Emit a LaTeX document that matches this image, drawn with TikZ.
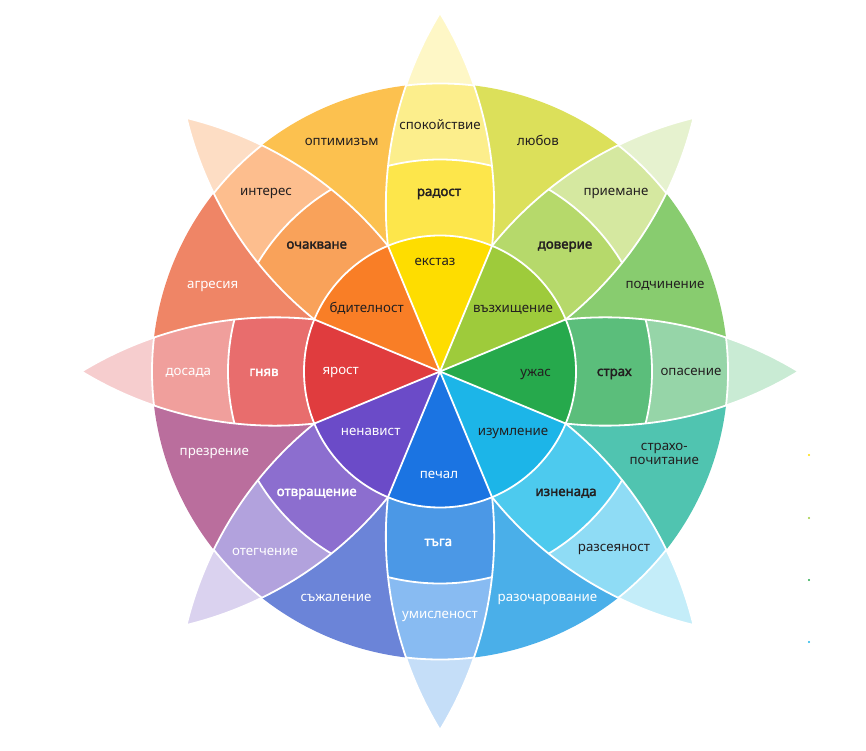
\documentclass[tikz,border=0pt]{standalone}
\usepackage{fontspec}
\setmainfont{Noto Sans}[AutoFakeBold=2.2]
% petal colours: T = tip, O = outer band, M = middle band, I = inner wedge
\definecolor{joyT}{HTML}{FEF7C6}\definecolor{joyO}{HTML}{FCEE8C}\definecolor{joyM}{HTML}{FDE64B}\definecolor{joyI}{HTML}{FEDD00}
\definecolor{truT}{HTML}{E6F2CF}\definecolor{truO}{HTML}{D5E8A0}\definecolor{truM}{HTML}{B6D96B}\definecolor{truI}{HTML}{9ECB3B}
\definecolor{feaT}{HTML}{C9EBD4}\definecolor{feaO}{HTML}{96D5A8}\definecolor{feaM}{HTML}{5BBE7B}\definecolor{feaI}{HTML}{26A94C}
\definecolor{surT}{HTML}{C4EDF9}\definecolor{surO}{HTML}{8FDCF5}\definecolor{surM}{HTML}{4DCAEE}\definecolor{surI}{HTML}{1CB5E8}
\definecolor{sadT}{HTML}{C5DEF8}\definecolor{sadO}{HTML}{88BBF2}\definecolor{sadM}{HTML}{4B98E6}\definecolor{sadI}{HTML}{1B74E2}
\definecolor{disT}{HTML}{DAD2EF}\definecolor{disO}{HTML}{B2A2DD}\definecolor{disM}{HTML}{8C6ECF}\definecolor{disI}{HTML}{6B4BC8}
\definecolor{angT}{HTML}{F6CDCE}\definecolor{angO}{HTML}{F09F9C}\definecolor{angM}{HTML}{E86D6D}\definecolor{angI}{HTML}{E03C3E}
\definecolor{antT}{HTML}{FDDDC4}\definecolor{antO}{HTML}{FDBE8E}\definecolor{antM}{HTML}{F9A25A}\definecolor{antI}{HTML}{F97E26}
% dyads
\definecolor{dOpt}{HTML}{FCC14F}\definecolor{dLove}{HTML}{DCE05A}\definecolor{dSub}{HTML}{88CC6F}\definecolor{dAwe}{HTML}{50C4B0}
\definecolor{dDis}{HTML}{4AAFE9}\definecolor{dRem}{HTML}{6B84D8}\definecolor{dCon}{HTML}{BA6E9D}\definecolor{dAgg}{HTML}{EF8566}
\definecolor{ink}{HTML}{231F20}
\begin{document}
\begin{tikzpicture}[x=1pt,y=1pt,
  wline/.style={draw=white,line width=1.8pt},
  lbl/.style={inner sep=0pt,text height=1ex,text depth=0pt,font=\fontsize{13.3}{15}\selectfont,text=ink},
  lblb/.style={lbl,font=\fontsize{13.3}{15}\selectfont\bfseries},
  lblw/.style={lbl,text=white},
  lblwb/.style={lblb,text=white}]
\useasboundingbox (0,0) rectangle (866,750);
\coordinate (C) at (440,378.5);
% dyad sectors
\foreach \a/\c in {90/dOpt,45/dLove,0/dSub,-45/dAwe,-90/dDis,-135/dRem,-180/dCon,-225/dAgg}
  \fill[\c] (C) -- ++(\a:288) arc[start angle=\a, end angle=\a+45, radius=288] -- cycle;
% petals
\foreach \a/\t/\o/\m in {90/joyT/joyO/joyM,45/truT/truO/truM,0/feaT/feaO/feaM,-45/surT/surO/surM,-90/sadT/sadO/sadM,-135/disT/disO/disM,180/angT/angO/angM,135/antT/antO/antM}{
  \begin{scope}[shift={(440,378.5)},rotate=\a]
    \begin{scope}
      \clip (0,0) -- (125.65,-52.05) arc[start angle=-96.1, end angle=-58.7, radius=372.1]
        arc[start angle=58.7, end angle=96.1, radius=372.1] -- cycle;
      \fill[\t] (0,0) circle[radius=400];
      \fill[\o] (0,0) circle[radius=288];
      \fill[\m] (0,0) circle[radius=212];
      \draw[wline] (0,0) circle[radius=288] (0,0) circle[radius=212];
    \end{scope}
    \draw[wline] (125.65,-52.05) arc[start angle=-96.1, end angle=-58.7, radius=372.1]
        arc[start angle=58.7, end angle=96.1, radius=372.1];
  \end{scope}
}
% inner wedges
\foreach \a/\c in {90/joyI,45/truI,0/feaI,-45/surI,-90/sadI,-135/disI,180/angI,135/antI}
  \fill[\c] (C) -- ++({\a-22.5}:136) arc[start angle=\a-22.5, end angle=\a+22.5, radius=136] -- cycle;
\foreach \a in {22.5,67.5,112.5,157.5,202.5,247.5,292.5,337.5}
  \draw[wline] (C) -- ++(\a:136);
\draw[wline] (C) circle[radius=136];
% labels
\node[lbl]  (spok) at (440,622.7) {спокойствие};
\node[lblb] (rad)  at (439,556.7) {радост};
\node[lbl]  (ekst) at (435,487) {екстаз};
\node[lbl]  (opt)  at (341.7,606.7) {оптимизъм};
\node[lbl]  (lub)  at (538,606.7) {любов};
\node[lbl]  (int)  at (266,556.7) {интерес};
\node[lblb] (och)  at (316.7,504) {очакване};
\node[lbl]  (bdit) at (366.7,440) {бдителност};
\node[lbl]  (prie) at (616,556.7) {приемане};
\node[lblb] (dov)  at (565,504) {доверие};
\node[lbl]  (vazh) at (513,440) {възхищение};
\node[lblw] (agr)  at (212.7,464.3) {агресия};
\node[lbl]  (podch) at (665,464) {подчинение};
\node[lblw] (dos)  at (188.3,376.7) {досада};
\node[lblwb] (gnqv) at (264,376.7) {гняв};
\node[lblw] (yar)  at (340.7,378.3) {ярост};
\node[lbl]  (uzh)  at (535.7,376) {ужас};
\node[lblb] (strah) at (614.3,376.7) {страх};
\node[lbl]  (opas) at (691,376.7) {опасение};
\node[lblw] (prez) at (214.3,297.3) {презрение};
\node[lbl]  (str1) at (664.3,302.3) {страхо-};
\node[lbl]  (str2) at (664.3,288.3) {почитание};
\node[lblw] (nen)  at (370.7,317.3) {ненавист};
\node[lbl]  (izum) at (513,317) {изумление};
\node[lblwb] (otvr) at (316.7,256.7) {отвращение};
\node[lblb] (izn)  at (566,256.7) {изненада};
\node[lblw] (pech) at (439,274) {печал};
\node[lblwb] (taga) at (438.3,206.7) {тъга};
\node[lblw] (oteg) at (265,196.7) {отегчение};
\node[lbl]  (razs) at (614,200.7) {разсеяност};
\node[lblw] (sazh) at (336,150.7) {съжаление};
\node[lblw] (umis) at (440,134) {умисленост};
\node[lblw] (razo) at (547.5,150.7) {разочарование};
% small marks at the right edge
\fill[joyI] (809,295) circle[radius=1.1];
\fill[truI] (809,232) circle[radius=1.1];
\fill[feaI] (809,170) circle[radius=1.1];
\fill[surI] (809,108) circle[radius=1.1];
\end{tikzpicture}
\end{document}
